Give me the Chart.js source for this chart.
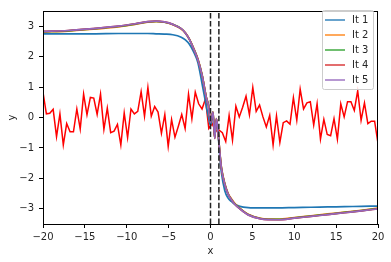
<!DOCTYPE html>
<html>
<head>
<meta charset="utf-8">
<script src="https://cdn.jsdelivr.net/npm/chart.js@4.4.1/dist/chart.umd.min.js"></script>
<style>
  html, body { margin: 0; padding: 0; background: #fff; }
</style>
</head>
<body>
<canvas id="chart" width="391" height="262"></canvas>
<script>
// noisy red signal, sampled evenly from -20 to 20
const noiseStart = -20;
const noiseStep = 40 / 99;
const noise = [
  0.83, 0.12, 0.14, 0.27, -0.63, 0.12, -0.9, -0.2, -0.47, -0.47,
  0.28, -0.38, 0.77, 0.09, 0.66, 0.64, 0.1, 0.77, -0.39, 0.31,
  -0.5, -0.45, -0.23, -0.9, 0.15, -0.66, 0.28, 0.12, 0.2, 0.85,
  0.04, 0.99, 0.04, 0.36, 0.18, -0.52, 0.1, -0.95, -0.07, -0.65,
  -0.29, 0.1, -0.36, 0.77, -0.04, 0.83, 0.45, 0.28, 0.61, -0.36,
  -0.2, -0.45, -0.41, -0.5, -0.79, 0.07, -0.74, 0.37, 0.02, 0.34,
  0.7, 0.09, 0.99, 0.2, 0.41, 0.02, -0.31, 0.07, -0.9, 0.05,
  -0.82, -0.17, -0.11, -0.22, 0.65, -0.09, 0.93, 0.28, 0.48, 0.52,
  -0.25, 0.45, -0.71, -0.06, -0.56, -0.6, -0.04, -0.71, 0.45, 0.02,
  0.52, 0.52, 0.23, 0.88, -0.09, 0.48, -0.2, -0.12, -0.12, -0.85
];

// iteration curves
const curveX = [-20, -17, -14, -11, -9, -7.5, -6.5, -5.5, -4.5, -3.5, -3, -2.5, -2, -1.5, -1, -0.5, -0.25, 0,
  0.3, 0.5, 0.7, 0.9, 1.1, 1.3, 1.7, 2.1, 2.5, 2.9, 3.5, 4.5, 6, 8, 10, 12, 14, 16, 18, 20];
const it1 = [2.75, 2.75, 2.75, 2.76, 2.76, 2.76, 2.75, 2.74, 2.72, 2.64, 2.55, 2.4, 2.15, 1.8, 1.1, 0.37, 0.02, -0.25,
  0.1, -0.6, -0.1, -0.5, -1.25, -1.8, -2.4, -2.65, -2.76, -2.85, -2.92, -2.96, -2.97, -2.97, -2.96, -2.95, -2.94, -2.93, -2.92, -2.91];
const it2 = [2.81, 2.84, 2.9, 2.98, 3.06, 3.13, 3.15, 3.13, 3.05, 2.91, 2.78, 2.57, 2.27, 1.92, 1.4, 0.67, 0.42, -0.13,
  0.18, -0.67, -0.04, -0.45, -1.1, -1.63, -2.16, -2.49, -2.67, -2.82, -2.98, -3.18, -3.31, -3.34, -3.29, -3.23, -3.17, -3.11, -3.05, -2.98];
const it3 = [2.82, 2.85, 2.91, 2.99, 3.07, 3.14, 3.16, 3.13, 3.06, 2.92, 2.78, 2.56, 2.26, 1.91, 1.39, 0.66, 0.41, -0.14,
  0.18, -0.68, -0.04, -0.46, -1.11, -1.65, -2.18, -2.51, -2.69, -2.84, -2.99, -3.19, -3.32, -3.35, -3.3, -3.24, -3.18, -3.12, -3.06, -2.99];
const it4 = [2.83, 2.86, 2.92, 3.0, 3.08, 3.15, 3.17, 3.14, 3.06, 2.92, 2.78, 2.56, 2.25, 1.9, 1.38, 0.65, 0.4, -0.15,
  0.18, -0.69, -0.04, -0.47, -1.12, -1.66, -2.19, -2.52, -2.7, -2.85, -3.0, -3.2, -3.33, -3.36, -3.31, -3.25, -3.19, -3.13, -3.07, -3.0];
const it5 = [2.83, 2.86, 2.92, 3.0, 3.08, 3.15, 3.17, 3.14, 3.06, 2.92, 2.78, 2.56, 2.25, 1.9, 1.38, 0.65, 0.4, -0.15,
  0.18, -0.69, -0.04, -0.47, -1.12, -1.66, -2.19, -2.52, -2.7, -2.85, -3.0, -3.2, -3.33, -3.36, -3.31, -3.25, -3.19, -3.13, -3.07, -3.0];

const vlines = [0, 1];
const xTicks = [-20, -15, -10, -5, 0, 5, 10, 15, 20];
const yTicks = [-3, -2, -1, 0, 1, 2, 3];
const labels = ['It 1', 'It 2', 'It 3', 'It 4', 'It 5'];
const colors = ['#1f77b4', '#ff7f0e', '#2ca02c', '#d62728', '#9467bd'];

const pts = (xs, ys) => ys.map((y, i) => ({ x: xs[i], y: y }));
const minus = v => String(v).replace('-', '\u2212');

const curves = [it1, it2, it3, it4, it5];
const datasets = [];

vlines.forEach(v => {
  datasets.push({
    data: [{ x: v, y: -3.5 }, { x: v, y: 3.5 }],
    borderColor: '#222', borderWidth: 1.5, borderDash: [5.5, 2.4],
    pointRadius: 0, order: 0
  });
});
curves.forEach((ys, k) => {
  datasets.push({
    label: labels[k],
    data: pts(curveX, ys),
    borderColor: colors[k], borderWidth: 1.7,
    pointRadius: 0, cubicInterpolationMode: 'monotone', order: 5 - k
  });
});
datasets.push({
  data: noise.map((y, i) => ({ x: noiseStart + i * noiseStep, y: y })),
  borderColor: '#ff0000', borderWidth: 1.5, pointRadius: 0, tension: 0, order: 6
});

const frame = {
  id: 'frame',
  afterDraw(chart) {
    const { ctx, chartArea: a } = chart;
    ctx.save();
    ctx.strokeStyle = '#000';
    ctx.lineWidth = 1;
    ctx.strokeRect(a.left + 0.5, a.top + 0.5, a.right - a.left - 1, a.bottom - a.top);
    // legend box
    const bx = 322, by = 10, bw = 51, bh = 79;
    ctx.fillStyle = 'rgba(255,255,255,0.8)';
    ctx.strokeStyle = '#cccccc';
    ctx.beginPath();
    ctx.roundRect(bx + 0.5, by + 0.5, bw, bh, 2);
    ctx.fill();
    ctx.stroke();
    ctx.font = '10px "DejaVu Sans"';
    ctx.textBaseline = 'middle';
    labels.forEach((t, k) => {
      const y = by + 10 + k * 15;
      ctx.strokeStyle = colors[k];
      ctx.globalAlpha = 0.8;
      ctx.lineWidth = 1.7;
      ctx.beginPath();
      ctx.moveTo(bx + 3, y);
      ctx.lineTo(bx + 23, y);
      ctx.stroke();
      ctx.globalAlpha = 1;
      ctx.fillStyle = '#262626';
      ctx.fillText(t, bx + 30, y + 0.5);
    });
    ctx.restore();
  }
};

new Chart(document.getElementById('chart'), {
  type: 'line',
  data: { datasets: datasets },
  plugins: [frame],
  options: {
    responsive: false,
    animation: false,
    layout: { padding: { top: 6, right: 13, left: 0, bottom: 0 } },
    plugins: { legend: { display: false }, tooltip: { enabled: false } },
    scales: {
      x: {
        type: 'linear', min: -20, max: 20,
        afterBuildTicks: s => { s.ticks = xTicks.map(v => ({ value: v })); },
        afterFit: s => { s.height = 38; },
        ticks: { callback: v => minus(v), color: '#262626', font: { family: 'DejaVu Sans', size: 10 }, padding: 3, maxRotation: 0 },
        grid: { drawOnChartArea: false, tickLength: 4, color: '#000' },
        border: { display: false },
        title: { display: true, text: 'x', color: '#262626', font: { family: 'DejaVu Sans', size: 10 }, padding: { top: 0, bottom: 5 } }
      },
      y: {
        type: 'linear', min: -3.5, max: 3.5,
        afterBuildTicks: s => { s.ticks = yTicks.map(v => ({ value: v })); },
        afterFit: s => { s.width = 43; },
        ticks: { callback: v => minus(v), color: '#262626', font: { family: 'DejaVu Sans', size: 10 }, padding: 5 },
        grid: { drawOnChartArea: false, tickLength: 4, color: '#000' },
        border: { display: false },
        title: { display: true, text: 'y', color: '#262626', font: { family: 'DejaVu Sans', size: 10 }, padding: { top: 6, bottom: 0 } }
      }
    }
  }
});
</script>
</body>
</html>
